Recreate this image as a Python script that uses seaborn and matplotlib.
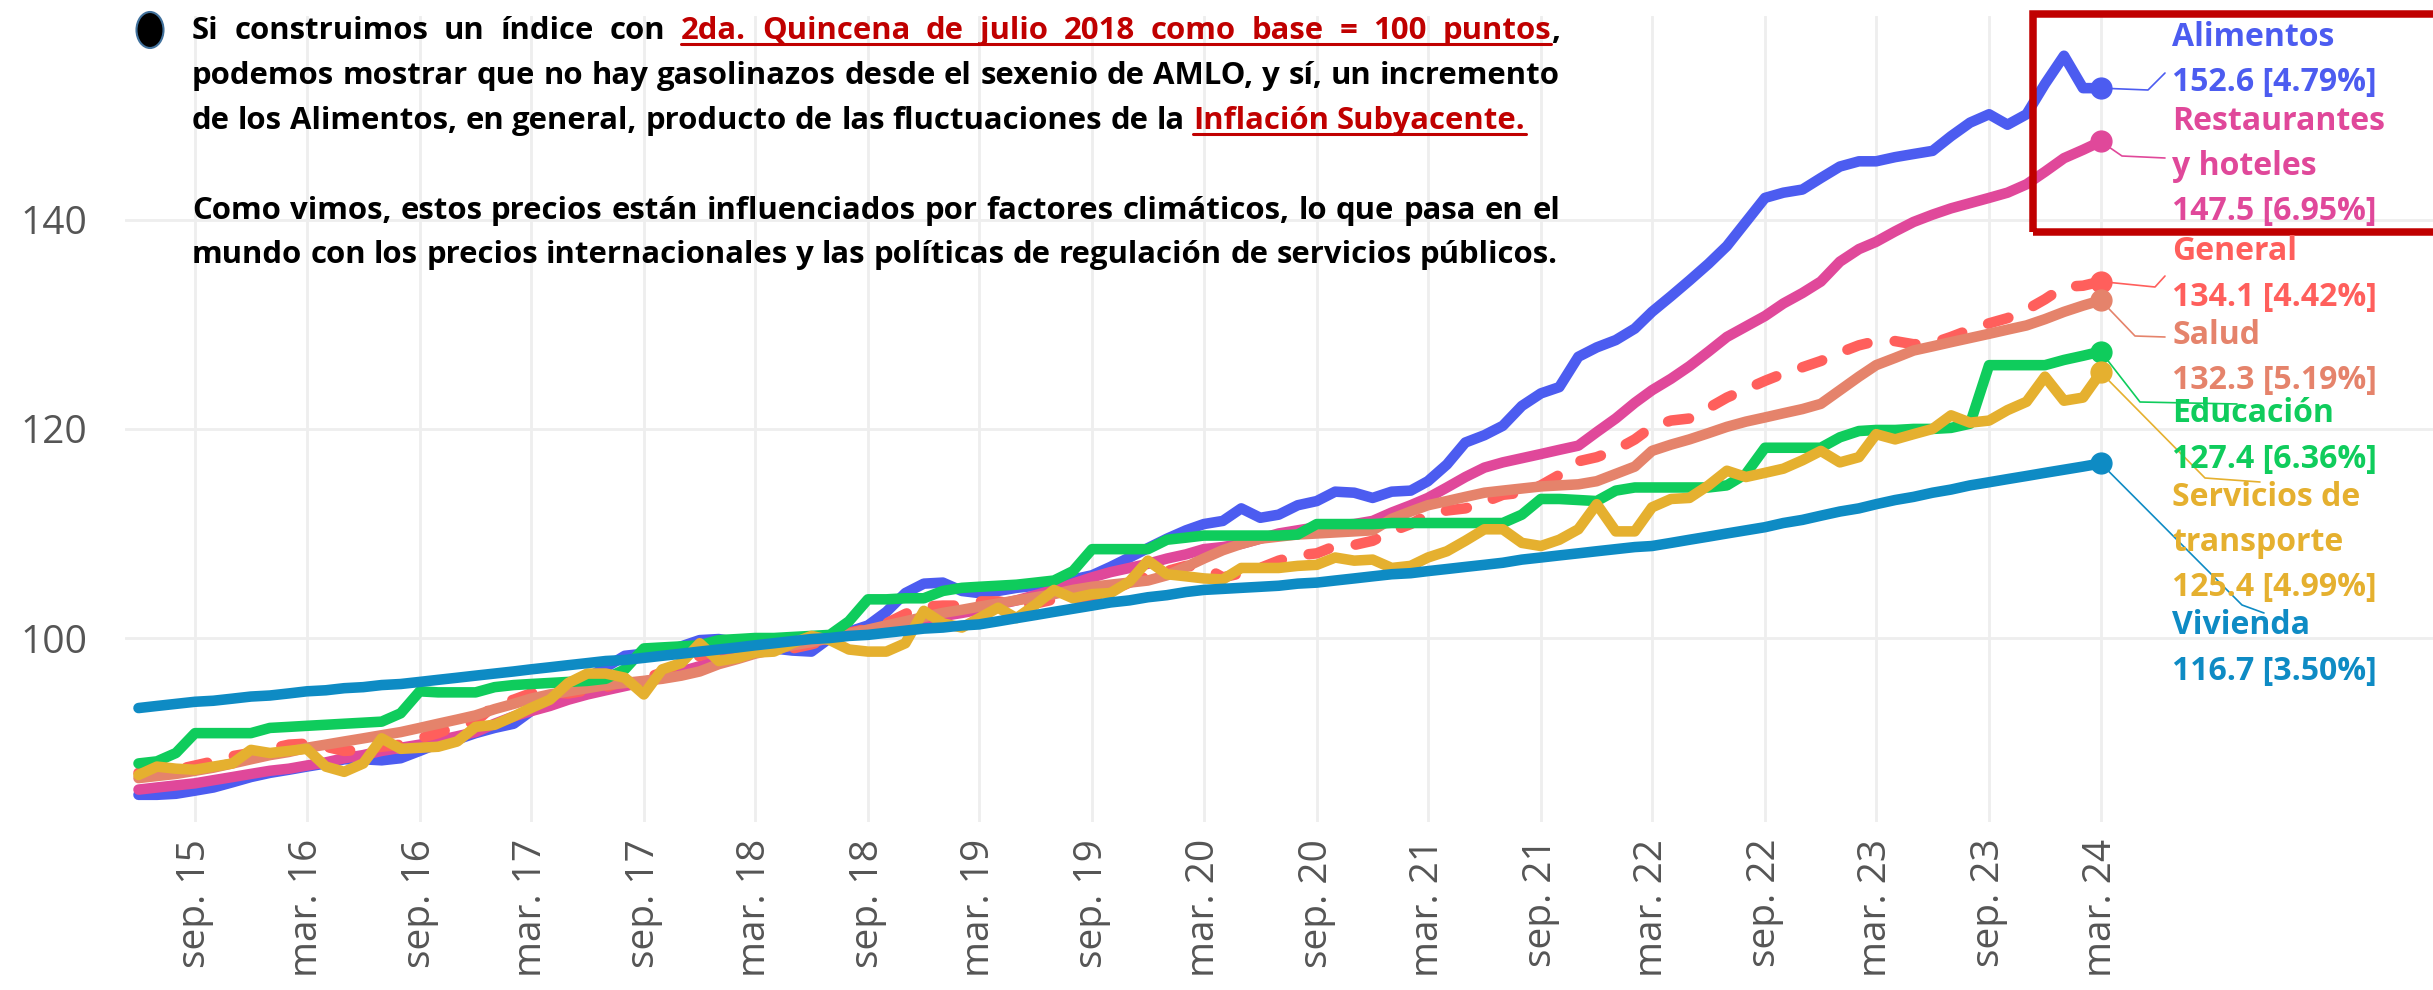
import numpy as np
import pandas as pd
import matplotlib
matplotlib.use('Agg')
import matplotlib.pyplot as plt
from matplotlib.patches import Ellipse, Rectangle
from matplotlib.lines import Line2D
from matplotlib.transforms import IdentityTransform
import seaborn as sns

W, H = 2433, 990

# monthly index, 2da. quincena de julio 2018 = 100
fechas = pd.date_range('2015-06-01', '2024-03-01', freq='MS')

alimentos = [
    85.0, 85.0, 85.1, 85.4, 85.7, 86.2, 86.7,
    87.1, 87.4, 87.7, 88.0, 88.4, 88.4, 88.3, 88.5, 89.2, 89.9, 90.3, 90.9,
    91.4, 91.8, 93.0, 94.2, 95.3, 96.2, 97.2, 98.3, 98.5, 98.6, 99.2, 99.8,
    99.9, 99.6, 99.4, 99.0, 98.8, 98.7, 100.0, 100.6, 101.2, 102.5, 104.3, 105.2,
    105.3, 104.5, 104.3, 104.5, 104.8, 105.0, 105.3, 105.6, 106.0, 106.8, 107.7, 108.6,
    109.5, 110.3, 110.9, 111.2, 112.4, 111.5, 111.8, 112.7, 113.1, 114.0, 113.9, 113.4,
    114.0, 114.1, 115.0, 116.6, 118.7, 119.4, 120.3, 122.2, 123.4, 124.0, 126.9, 127.8,
    128.5, 129.6, 131.2, 132.7, 134.2, 135.8, 137.5, 139.8, 142.1, 142.6, 142.9, 144.0,
    145.1, 145.6, 145.6, 146.0, 146.3, 146.6, 148.0, 149.3, 150.1, 149.1, 150.1, 153.0,
    155.7, 152.6, 152.6,
]
restaurantes = [
    85.5, 85.7, 85.9, 86.1, 86.4, 86.7, 87.0,
    87.3, 87.5, 87.8, 88.1, 88.5, 88.8, 89.2, 89.5, 89.8, 90.2, 90.6, 91.0,
    91.8, 92.5, 93.0, 93.5, 94.1, 94.6, 95.0, 95.4, 95.8, 96.3, 96.8, 97.3,
    97.9, 98.3, 98.7, 99.0, 99.4, 99.7, 100.0, 100.3, 100.6, 100.9, 101.3, 101.7,
    102.1, 102.4, 102.7, 103.2, 103.6, 104.1, 104.6, 105.2, 105.8, 106.3, 106.7, 107.1,
    107.6, 108.0, 108.5, 108.7, 109.0, 109.5, 110.0, 110.3, 110.6, 110.8, 110.9, 111.2,
    112.0, 112.7, 113.4, 114.4, 115.4, 116.3, 116.8, 117.2, 117.6, 118.0, 118.4, 119.7,
    121.0, 122.5, 123.7, 124.8, 126.0, 127.4, 128.8, 129.8, 130.8, 132.0, 133.0, 134.1,
    136.0, 137.2, 137.9, 138.9, 139.8, 140.5, 141.1, 141.6, 142.1, 142.6, 143.4, 144.6,
    145.9, 146.7, 147.5,
]
general = [
    87.1, 87.2, 87.4, 87.8, 88.2, 88.7, 89.0,
    89.4, 89.8, 89.9, 89.6, 89.2, 89.3, 89.6, 89.8, 90.4, 90.9, 91.6, 92.0,
    93.6, 94.1, 94.7, 94.8, 94.7, 95.0, 95.3, 95.9, 96.1, 96.7, 97.7, 98.3,
    98.8, 99.2, 99.5, 99.2, 99.0, 99.4, 99.9, 100.5, 100.9, 101.4, 102.3, 103.0,
    103.1, 103.1, 103.5, 103.5, 103.2, 103.3, 103.7, 103.7, 103.9, 104.5, 105.3, 105.9,
    106.4, 106.9, 106.8, 105.8, 106.2, 106.7, 107.4, 107.9, 108.1, 108.8, 108.9, 109.3,
    110.2, 110.9, 111.8, 112.2, 112.4, 113.0, 113.7, 113.9, 114.6, 115.6, 116.9, 117.3,
    118.0, 119.0, 120.2, 120.8, 121.0, 122.0, 123.0, 123.8, 124.6, 125.3, 125.9, 126.5,
    127.3, 128.0, 128.4, 128.4, 128.1, 128.2, 128.8, 129.5, 130.1, 130.6, 131.4, 132.4,
    133.6, 133.7, 134.1,
]
salud = [
    86.6, 86.8, 87.0, 87.3, 87.6, 88.0, 88.4,
    88.8, 89.1, 89.5, 89.8, 90.1, 90.4, 90.7, 91.0, 91.4, 91.8, 92.2, 92.6,
    93.2, 93.7, 94.2, 94.6, 94.9, 95.2, 95.5, 95.7, 95.9, 96.1, 96.4, 96.8,
    97.5, 98.0, 98.5, 98.9, 99.3, 99.6, 100.0, 100.4, 100.8, 101.2, 101.6, 102.0,
    102.4, 102.7, 103.0, 103.3, 103.6, 103.9, 104.2, 104.6, 104.9, 105.1, 105.3, 105.5,
    106.0, 106.8, 107.6, 108.4, 109.0, 109.5, 109.7, 109.9, 110.0, 110.1, 110.2, 110.3,
    111.4, 112.1, 112.7, 113.1, 113.5, 113.9, 114.1, 114.3, 114.5, 114.6, 114.7, 115.0,
    115.7, 116.4, 117.9, 118.5, 119.0, 119.6, 120.2, 120.7, 121.1, 121.5, 121.9, 122.4,
    123.7, 125.0, 126.1, 126.8, 127.5, 127.9, 128.3, 128.7, 129.1, 129.5, 129.9, 130.5,
    131.2, 131.8, 132.3,
]
educacion = [
    88.0, 88.2, 89.0, 90.9, 90.9, 90.9, 90.9,
    91.4, 91.5, 91.6, 91.7, 91.8, 91.9, 92.0, 92.8, 94.9, 94.8, 94.8, 94.8,
    95.3, 95.5, 95.6, 95.7, 95.8, 95.9, 96.1, 97.0, 99.0, 99.1, 99.2, 99.3,
    99.8, 99.9, 100.0, 100.0, 100.1, 100.2, 100.3, 101.6, 103.7, 103.7, 103.8, 103.8,
    104.5, 104.8, 104.9, 105.0, 105.1, 105.3, 105.5, 106.4, 108.5, 108.5, 108.5, 108.5,
    109.4, 109.6, 109.8, 109.8, 109.8, 109.8, 109.8, 109.9, 110.9, 110.9, 110.9, 110.9,
    111.0, 111.0, 111.0, 111.0, 111.0, 111.0, 111.0, 111.8, 113.3, 113.3, 113.2, 113.1,
    114.1, 114.4, 114.4, 114.4, 114.4, 114.4, 114.6, 115.7, 118.2, 118.2, 118.2, 118.2,
    119.2, 119.8, 119.9, 119.9, 120.0, 120.0, 120.1, 120.5, 126.1, 126.1, 126.1, 126.1,
    126.6, 127.0, 127.4,
]
transporte = [
    86.9, 87.7, 87.5, 87.4, 87.7, 88.0, 89.3,
    89.0, 89.2, 89.4, 87.7, 87.2, 88.0, 90.4, 89.4, 89.5, 89.6, 90.1, 91.5,
    91.7, 92.5, 93.3, 94.1, 95.7, 96.6, 96.6, 96.2, 94.6, 97.0, 97.6, 99.5,
    97.8, 98.1, 98.6, 98.7, 99.5, 100.2, 99.8, 98.9, 98.7, 98.7, 99.5, 102.6,
    101.4, 101.0, 101.9, 102.9, 101.9, 103.2, 104.6, 103.8, 104.2, 104.3, 105.4, 107.4,
    106.1, 105.9, 105.7, 105.6, 106.7, 106.7, 106.7, 106.9, 107.0, 107.7, 107.4, 107.5,
    106.7, 106.9, 107.7, 108.3, 109.3, 110.4, 110.4, 109.1, 108.8, 109.4, 110.4, 112.8,
    110.2, 110.2, 112.5, 113.3, 113.4, 114.6, 116.0, 115.4, 115.8, 116.2, 117.0, 117.9,
    116.8, 117.3, 119.5, 119.0, 119.5, 120.0, 121.3, 120.6, 120.8, 121.8, 122.6, 125.0,
    122.7, 123.0, 125.4,
]
vivienda = [
    93.3, 93.5, 93.7, 93.9, 94.0, 94.2, 94.4,
    94.5, 94.7, 94.9, 95.0, 95.2, 95.3, 95.5, 95.6, 95.8, 96.0, 96.2, 96.4,
    96.6, 96.8, 97.0, 97.2, 97.4, 97.6, 97.8, 97.9, 98.1, 98.3, 98.5, 98.7,
    98.9, 99.1, 99.3, 99.5, 99.7, 99.9, 100.0, 100.2, 100.3, 100.5, 100.7, 100.9,
    101.0, 101.2, 101.3, 101.6, 101.9, 102.2, 102.5, 102.8, 103.1, 103.4, 103.6, 103.9,
    104.1, 104.4, 104.6, 104.7, 104.8, 104.9, 105.0, 105.2, 105.3, 105.5, 105.7, 105.9,
    106.1, 106.2, 106.4, 106.6, 106.8, 107.0, 107.2, 107.5, 107.7, 107.9, 108.1, 108.3,
    108.5, 108.7, 108.8, 109.1, 109.4, 109.7, 110.0, 110.3, 110.6, 111.0, 111.3, 111.7,
    112.1, 112.4, 112.8, 113.2, 113.5, 113.9, 114.2, 114.6, 114.9, 115.2, 115.5, 115.8,
    116.1, 116.4, 116.7,
]

series = ['Alimentos', 'Restaurantes y hoteles', 'General', 'Salud', 'Educación',
          'Servicios de transporte', 'Vivienda']
valores = [alimentos, restaurantes, general, salud, educacion, transporte, vivienda]
colores = ['#4C5CF0', '#E0489A', '#FF5F5C', '#E5836B', '#0FCC5C', '#E5B02F', '#0E8BC4']
variacion = [4.79, 6.95, 4.42, 5.19, 6.36, 4.99, 3.50]
nombres = [['Alimentos'], ['Restaurantes', 'y hoteles'], ['General'], ['Salud'],
           ['Educación'], ['Servicios de', 'transporte'], ['Vivienda']]

tick_fechas = pd.date_range('2015-09-01', '2024-03-01', freq='6MS')
tick_labels = ['sep. 15', 'mar. 16', 'sep. 16', 'mar. 17', 'sep. 17', 'mar. 18',
               'sep. 18', 'mar. 19', 'sep. 19', 'mar. 20', 'sep. 20', 'mar. 21',
               'sep. 21', 'mar. 22', 'sep. 22', 'mar. 23', 'sep. 23', 'mar. 24']

df = pd.DataFrame({'fecha': fechas})
for s, v in zip(series, valores):
    df[s] = v
df = df.melt(id_vars='fecha', var_name='serie', value_name='indice')

sns.set_theme(style='white')
plt.rcParams['font.family'] = ['Open Sans', 'DejaVu Sans']

fig = plt.figure(figsize=(W / 100, H / 100), dpi=100)
ax = fig.add_axes([125 / W, 1 - 822 / H, (W - 125) / W, (822 - 16) / H])

sns.lineplot(data=df, x='fecha', y='indice', hue='serie', style='serie',
             hue_order=series, style_order=series,
             palette=dict(zip(series, colores)),
             dashes={s: ((2.0, 2.6) if s == 'General' else '') for s in series},
             estimator=None, errorbar=None, linewidth=7.6, legend=False, ax=ax,
             solid_capstyle='round', solid_joinstyle='round', dash_capstyle='round')

for v, c in zip(valores, colores):
    ax.plot([fechas[-1]], [v[-1]], 'o', ms=15, color=c, zorder=5)

ax.set_xlim(pd.Timestamp('2015-05-10'), pd.Timestamp('2025-08-24'))
ax.set_ylim(82.4, 159.5)
ax.set_xticks(tick_fechas)
ax.set_xticklabels(tick_labels, rotation=90)
ax.set_yticks([100, 120, 140])
ax.tick_params(axis='x', labelsize=28, labelcolor='#555555', length=0, pad=12)
ax.tick_params(axis='y', labelsize=28, labelcolor='#555555', length=0, pad=27)
ax.grid(True, color='#EEEEEE', lw=2)
ax.set_axisbelow(True)
ax.set_xlabel('')
ax.set_ylabel('')
sns.despine(ax=ax, left=True, bottom=True)

# end labels with connectors (image pixel positions)
bloque_y = [37, 121, 252, 335, 414, 497, 626]
paso = 45.5
conectores = [
    [(2148, 90), (2165, 73)],
    [(2122, 156), (2165, 158)],
    [(2155, 287), (2165, 276)],
    [(2135, 336), (2165, 337)],
    [(2140, 402), (2237, 404)],
    [(2205, 478), (2260, 482)],
    [(2242, 605), (2264, 613)],
]
for v, c, pct, nom, y0, con in zip(valores, colores, variacion, nombres, bloque_y, conectores):
    px, py = ax.transData.transform((matplotlib.dates.date2num(fechas[-1]), v[-1]))
    xs = [px] + [p[0] for p in con]
    ys = [py] + [H - p[1] for p in con]
    fig.add_artist(Line2D(xs, ys, transform=IdentityTransform(), color=c, lw=1.2))
    lineas_lbl = nom + [f'{v[-1]:.1f} [{pct:.2f}%]']
    for i, t in enumerate(lineas_lbl):
        fig.text(2172 / W, 1 - (y0 + i * paso) / H, t, color=c, fontsize=23,
                 fontweight='bold', ha='left', va='center')

fig.add_artist(Rectangle((2033 / W, 1 - 232 / H), 500 / W, 218 / H,
                         transform=fig.transFigure, fill=False, ec='#C00000', lw=5.4))

# text block at the top
K = '#000000'
R = '#C00000'
FUENTE = ['Open Sans', 'DejaVu Sans']
lineas = [
    [('Si construimos un índice con ', K), ('2da. Quincena de julio 2018 como base = 100 puntos', R), (',', K)],
    [('podemos mostrar que no hay gasolinazos desde el sexenio de AMLO, y sí, un incremento', K)],
    [('de los Alimentos, en general, producto de las fluctuaciones de la ', K), ('Inflación Subyacente.', R)],
    [('Como vimos, estos precios están influenciados por factores climáticos, lo que pasa en el', K)],
    [('mundo con los precios internacionales y las políticas de regulación de servicios públicos.', K)],
]
lineas_y = [28, 73, 118, 208, 252]
justificar = [True, True, False, True, False]
X0, X1 = 192, 1560

renderer = fig.canvas.get_renderer()


def ancho(txt, size):
    t = fig.text(0, 0, txt, fontsize=size, fontweight='bold', family=FUENTE)
    w = t.get_window_extent(renderer).width
    t.remove()
    return w


def palabras(segs):
    out = []
    nueva = True
    for txt, col in segs:
        for i, p in enumerate(txt.split(' ')):
            if i > 0:
                nueva = True
            if p == '':
                continue
            if nueva or not out:
                out.append([(p, col)])
            else:
                out[-1].append((p, col))
            nueva = False
    return out


base = 20
nat = max(ancho(''.join(t for t, _ in segs), base) for segs in lineas)
size = base * (X1 - X0) / nat
esp = ancho('x x', size) - ancho('xx', size)
cap = 0.72 * size * 100 / 72

for segs, yc, just in zip(lineas, lineas_y, justificar):
    words = palabras(segs)
    widths = [[ancho(p, size) for p, _ in w] for w in words]
    total = sum(sum(ws) for ws in widths)
    gap = (X1 - X0 - total) / (len(words) - 1) if just else esp
    x = X0
    yb = H - (yc + cap / 2)
    r0 = None
    for w, ws in zip(words, widths):
        for (p, c), pw in zip(w, ws):
            fig.text(x / W, yb / H, p, color=c, fontsize=size, fontweight='bold',
                     family=FUENTE, ha='left', va='baseline')
            if c == R:
                if r0 is None:
                    r0 = x
                r1 = x + pw
            x += pw
        x += gap
    if r0 is not None:
        fig.add_artist(Line2D([r0, r1], [yb - 5, yb - 5], transform=IdentityTransform(),
                              color=R, lw=2.2))

fig.add_artist(Ellipse((150 / W, 1 - 30 / H), 27 / W, 36 / H, transform=fig.transFigure,
                       fc='black', ec='#41719C', lw=1.5))

fig.savefig('out.png', dpi=100)
